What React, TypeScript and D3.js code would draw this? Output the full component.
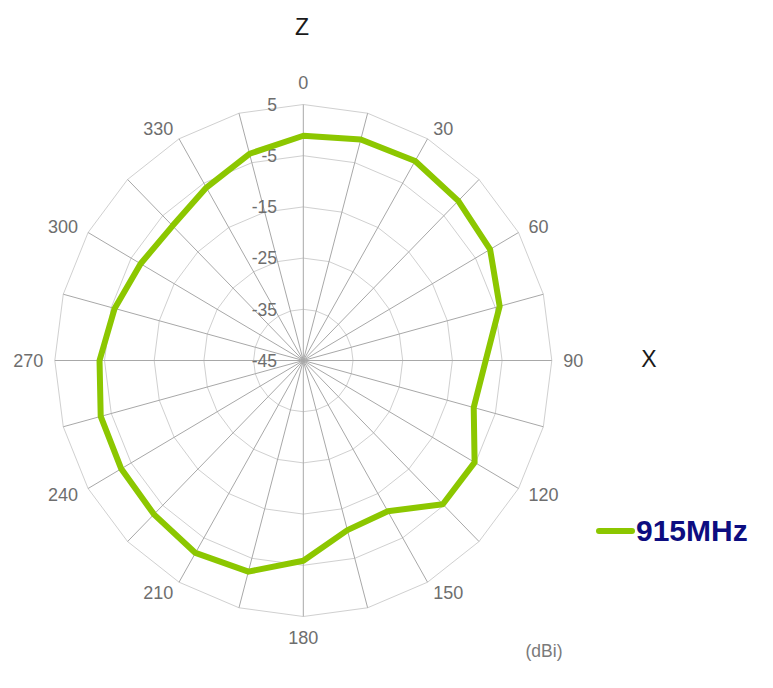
import React from "react";
import * as d3 from "d3";

// Radiation pattern, 915 MHz, gain in dBi at every 15° step
const angles: number[] = d3.range(0, 360, 15);
const gain915: number[] = [
  -1.1, -0.3, 0.0, -0.9, -1.6, -4.1, -8.3, -9.5, -5.2, -5.3, -11.0, -10.7,
  -5.9, -2.3, -1.6, -2.5, -2.7, -2.8, -4.0, -5.7, -7.2, -7.8, -6.0, -3.2,
];
const ringValues: number[] = [-45, -35, -25, -15, -5, 5];
const angleLabels: number[] = d3.range(0, 360, 30);
const seriesName = "915MHz";

const W = 773;
const H = 688;
const cx = 303.3;
const cy = 360.5;
const rx = 248.5;
const ry = 256;

const rScale = d3.scaleLinear().domain([-45, 5]).range([0, 1]);

function pt(angleDeg: number, frac: number): [number, number] {
  const a = (angleDeg * Math.PI) / 180;
  return [cx + rx * frac * Math.sin(a), cy - ry * frac * Math.cos(a)];
}

function angleLabelPos(a: number): { x: number; y: number; anchor: string } {
  const rad = (a * Math.PI) / 180;
  const s = Math.sin(rad);
  const c = Math.cos(rad);
  const [tx, ty] = pt(a, 1);
  if (Math.abs(s) < 0.01) {
    return { x: tx, y: ty - c * 21.5, anchor: "middle" };
  }
  const off = 11.5;
  return { x: tx + s * off, y: ty - c * off, anchor: s > 0 ? "start" : "end" };
}

export default function App() {
  const closed = d3.line().curve(d3.curveLinearClosed);

  const ringPath = (v: number) => {
    const f = rScale(v);
    return closed(angles.map((a) => pt(a, f))) || "";
  };

  const dataPath = closed(angles.map((a, i) => pt(a, rScale(gain915[i])))) || "";

  const font = "'Liberation Sans', Arial, sans-serif";

  return (
    <svg width={W} height={H} style={{ position: "absolute", left: 0, top: 0, background: "#fff" }}>
      <rect width={W} height={H} fill="#fff" />
      {/* rings */}
      {ringValues.slice(1).map((v) => (
        <path key={v} d={ringPath(v)} fill="none" stroke="#d0d0d0" strokeWidth={1} />
      ))}
      {/* spokes */}
      {angles.map((a) => {
        const [x2, y2] = pt(a, 1);
        return <line key={a} x1={cx} y1={cy} x2={x2} y2={y2} stroke="#a8a8a8" strokeWidth={1} />;
      })}
      {/* radial labels */}
      {ringValues.map((v) => {
        const [, y] = pt(0, rScale(v));
        return (
          <text key={v} x={277} y={y} dy="0.36em" textAnchor="end" fontFamily={font} fontSize={17.5} fill="#6e6e6e">
            {v}
          </text>
        );
      })}
      {/* angle labels */}
      {angleLabels.map((a) => {
        const p = angleLabelPos(a);
        return (
          <text key={a} x={p.x} y={p.y} dy="0.36em" textAnchor={p.anchor} fontFamily={font} fontSize={18} fill="#6e6e6e">
            {a}
          </text>
        );
      })}
      {/* data */}
      <path d={dataPath} fill="none" stroke="#8cc700" strokeWidth={6} strokeLinejoin="round" />
      {/* axis letters */}
      <text x={302} y={27} dy="0.36em" textAnchor="middle" fontFamily={font} fontSize={23} fill="#1a1a1a">Z</text>
      <text x={649} y={359} dy="0.36em" textAnchor="middle" fontFamily={font} fontSize={23} fill="#1a1a1a">X</text>
      <text x={544} y={651} dy="0.36em" textAnchor="middle" fontFamily={font} fontSize={17.5} fill="#7a7a7a">(dBi)</text>
      {/* legend */}
      <line x1={599} y1={531} x2={632} y2={531} stroke="#8cc700" strokeWidth={6} strokeLinecap="round" />
      <text x={636} y={541} fontFamily={font} fontSize={30} fontWeight="bold" fill="#0d0d80">{seriesName}</text>
    </svg>
  );
}
